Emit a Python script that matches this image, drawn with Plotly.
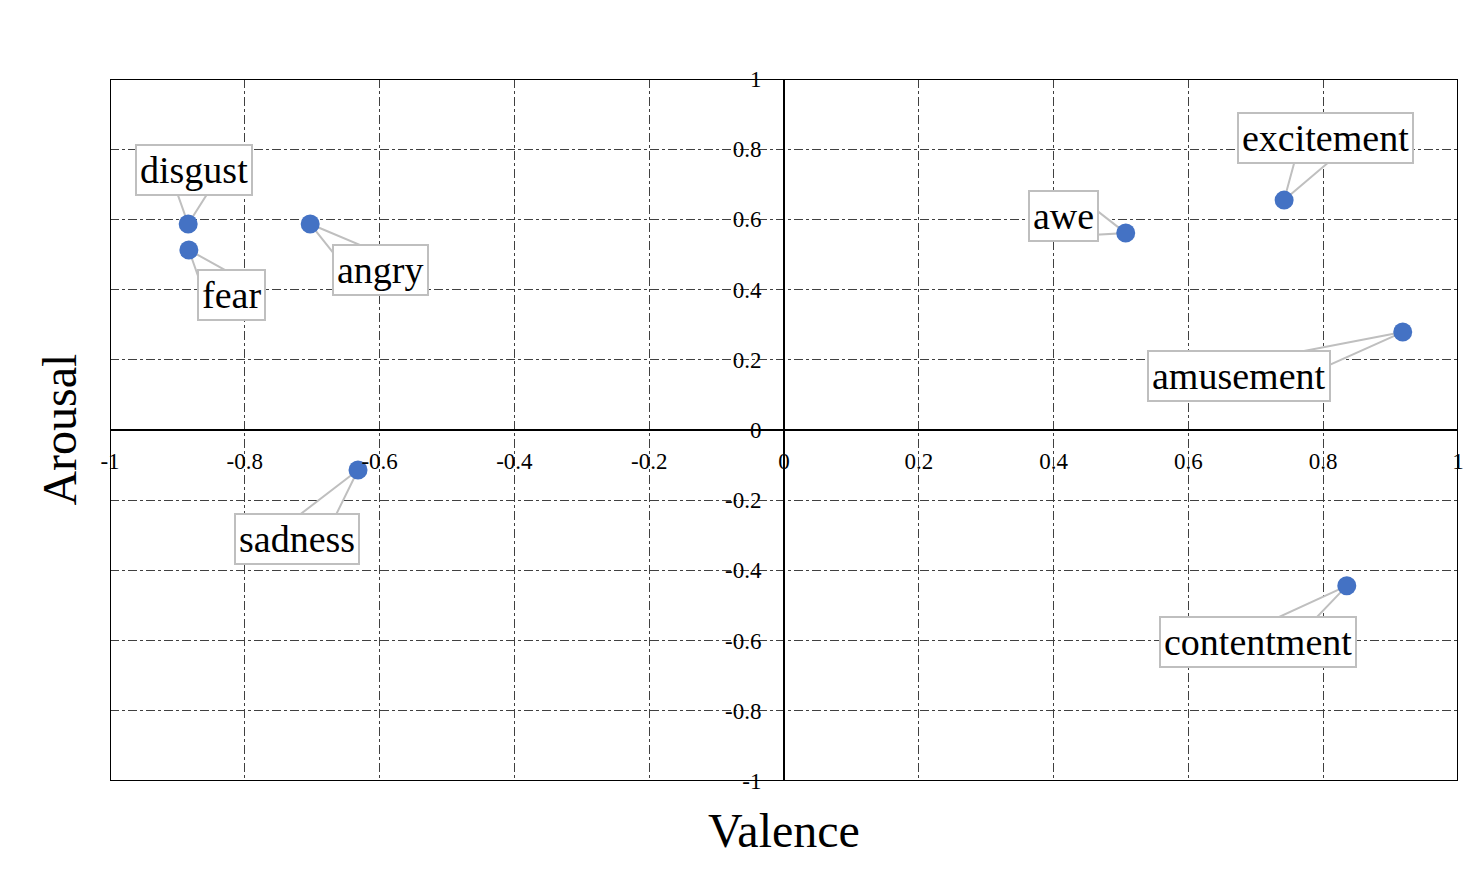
import plotly.graph_objects as go
import numpy as np

# emotion points (valence, arousal)
emotions = ["disgust", "fear", "angry", "sadness", "awe", "excitement", "amusement", "contentment"]
valence = [-0.884, -0.883, -0.703, -0.632, 0.507, 0.742, 0.918, 0.835]
arousal = [0.587, 0.513, 0.587, -0.114, 0.561, 0.655, 0.279, -0.444]

tick_vals = [-1, -0.8, -0.6, -0.4, -0.2, 0, 0.2, 0.4, 0.6, 0.8, 1]
tick_text = ["-1", "-0.8", "-0.6", "-0.4", "-0.2", "0", "0.2", "0.4", "0.6", "0.8", "1"]

# where each callout box sits (data coords of box centre)
label_x = [-0.875, -0.819, -0.598, -0.722, 0.414, 0.804, 0.675, 0.703]
label_y = [0.741, 0.385, 0.456, -0.311, 0.610, 0.832, 0.154, -0.604]

FONT = "Liberation Serif"
LABEL_SIZE = 38
# page has an 8px body margin, so the figure is a bit smaller than the window
W, H = 1461, 870
margin = dict(l=102, r=11, t=71, b=97)
sx = (W - margin["l"] - margin["r"]) / 2.0   # px per unit
sy = (H - margin["t"] - margin["b"]) / 2.0

fig = go.Figure()

fig.add_trace(go.Scatter(
    x=valence, y=arousal, mode="markers",
    marker=dict(size=19, color="#4472C4"),
    hoverinfo="text", text=emotions, showlegend=False))

shapes = []
annotations = []
hw = 20  # half width of the wedge base in px
for name, x, y, lx, ly in zip(emotions, valence, arousal, label_x, label_y):
    # rough box half size in px
    bw = len(name) * 0.44 * LABEL_SIZE / 2 + 5
    bh = 24
    dx = (x - lx) * sx
    dy = (y - ly) * sy
    d = np.hypot(dx, dy)
    t = min(bw / max(abs(dx), 1e-9), bh / max(abs(dy), 1e-9))
    t = t * 0.55
    cx, cy = dx * t, dy * t          # base centre, px from box centre
    nx, ny = -dy / d, dx / d
    base = []
    for s in (1, -1):
        px = np.clip(cx + s * nx * hw, -bw + 4, bw - 4)
        py = np.clip(cy + s * ny * hw, -bh + 4, bh - 4)
        base.append((lx + px / sx, ly + py / sy))
    path = "M %f,%f L %f,%f L %f,%f Z" % (x, y, base[0][0], base[0][1], base[1][0], base[1][1])
    shapes.append(dict(type="path", path=path, xref="x", yref="y",
                       line=dict(color="#bfbfbf", width=2),
                       fillcolor="white", layer="between"))
    annotations.append(dict(x=lx, y=ly, xref="x", yref="y", text=name,
                            showarrow=False,
                            font=dict(family=FONT, size=LABEL_SIZE, color="black"),
                            bgcolor="white", bordercolor="#bfbfbf",
                            borderwidth=2, borderpad=3))

# outer frame
shapes.append(dict(type="rect", xref="x", yref="y", x0=-1, x1=1, y0=-1, y1=1,
                   line=dict(color="black", width=2), layer="above"))

# axis titles
annotations.append(dict(x=0.5, y=-0.03, xref="paper", yref="paper",
                        xanchor="center", yanchor="top", text="Valence",
                        showarrow=False, font=dict(family=FONT, size=48, color="black")))
annotations.append(dict(x=-0.017, y=0.5, xref="paper", yref="paper",
                        xanchor="right", yanchor="middle", text="Arousal", textangle=-90,
                        showarrow=False, font=dict(family=FONT, size=48, color="black")))

axis_common = dict(
    range=[-1, 1], tickvals=tick_vals, ticktext=tick_text,
    showgrid=True, gridcolor="#404040", gridwidth=1, griddash="dashdot",
    zeroline=False, showline=True, linecolor="black", linewidth=2,
    ticks="", tickfont=dict(family=FONT, size=23, color="black"),
    anchor="free", position=0.5, fixedrange=True, automargin=False)

fig.update_layout(
    width=W, height=H, margin=margin,
    paper_bgcolor="white", plot_bgcolor="white",
    xaxis=dict(axis_common, ticklabelstandoff=10),
    yaxis=dict(axis_common, ticklabelstandoff=17),
    shapes=shapes, annotations=annotations,
    font=dict(family=FONT))

fig.write_html("out.html")
